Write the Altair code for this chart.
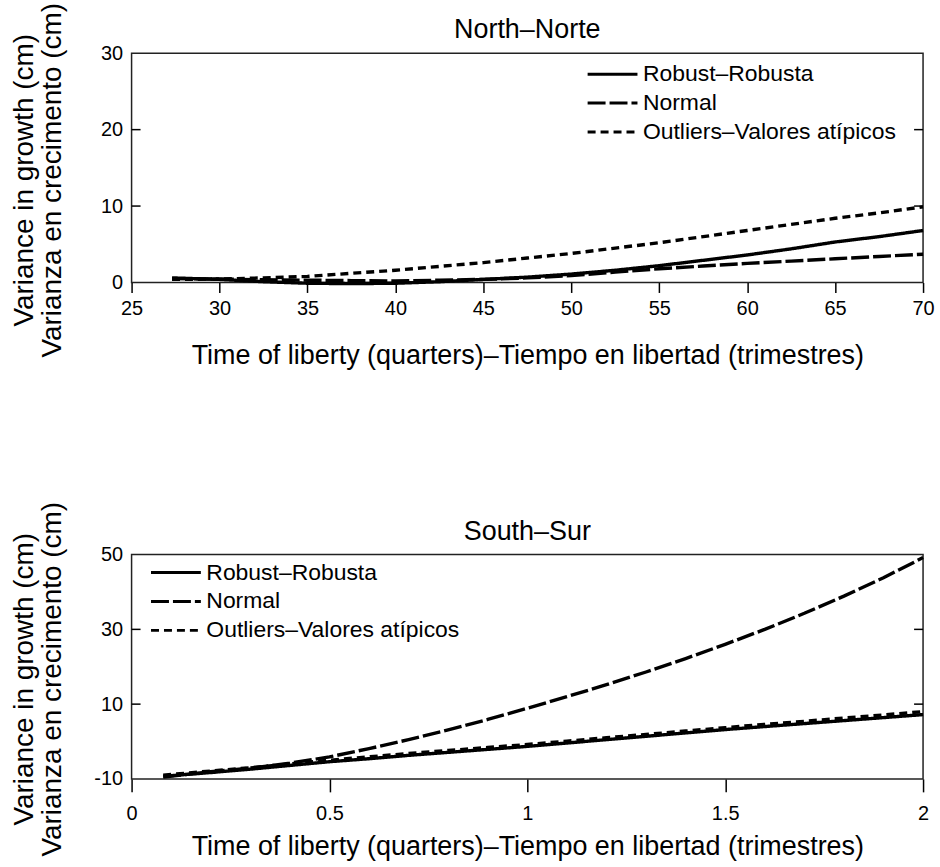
import altair as alt
import pandas as pd

series_names = ["Robust–Robusta", "Normal", "Outliers–Valores atípicos"]
dash_patterns = [[1, 0], [18, 4], [8, 5]]

# North panel
north_x = [27.3, 30, 32.5, 35, 37.5, 40, 42.5, 45, 47.5, 50, 52.5, 55, 57.5, 60, 62.5, 65, 67.5, 70]
north_robust = [0.6, 0.4, 0.1, -0.1, -0.15, -0.1, 0.1, 0.4, 0.7, 1.1, 1.6, 2.2, 2.9, 3.6, 4.4, 5.3, 6.0, 6.8]
north_normal = [0.5, 0.45, 0.35, 0.3, 0.25, 0.2, 0.3, 0.4, 0.6, 0.9, 1.35, 1.8, 2.15, 2.5, 2.8, 3.1, 3.4, 3.7]
north_outliers = [0.4, 0.45, 0.6, 0.8, 1.2, 1.6, 2.1, 2.6, 3.2, 3.8, 4.5, 5.2, 6.0, 6.8, 7.6, 8.4, 9.1, 9.9]
north_xticks = [25, 30, 35, 40, 45, 50, 55, 60, 65, 70]
north_yticks = [0, 10, 20, 30]
north_inner_ticks = [10, 20]

# South panel
south_x = [0.08, 0.2, 0.3, 0.4, 0.5, 0.6, 0.7, 0.8, 0.9, 1.0, 1.1, 1.2, 1.3, 1.4, 1.5, 1.6, 1.7, 1.8, 1.9, 2.0]
south_robust = [-9.3, -8.3, -7.4, -6.4, -5.4, -4.6, -3.7, -2.9, -2.1, -1.3, -0.4, 0.5, 1.4, 2.3, 3.2, 4.0, 4.8, 5.6, 6.4, 7.2]
south_normal = [-9.5, -8.1, -7.1, -5.8, -4.1, -1.9, 0.5, 3.1, 5.9, 8.9, 12.0, 15.2, 18.6, 22.2, 26.0, 30.0, 34.3, 38.9, 43.8, 49.2]
south_outliers = [-9.0, -7.9, -7.0, -6.0, -5.0, -4.1, -3.2, -2.4, -1.6, -0.8, 0.1, 1.0, 1.9, 2.8, 3.7, 4.6, 5.4, 6.3, 7.1, 8.0]
south_xticks = [0, 0.5, 1, 1.5, 2]
south_yticks = [-10, 10, 30, 50]
south_inner_ticks = [10, 30]

X_TITLE = "Time of liberty (quarters)–Tiempo en libertad (trimestres)"
Y_TITLE = ["Variance in growth (cm)", "Varianza en crecimento (cm)"]
FONT = "Liberation Sans"
W = 794


def make_df(xs, ys_list):
    rows = []
    for name, ys in zip(series_names, ys_list):
        for x, y in zip(xs, ys):
            rows.append({"x": x, "y": y, "series": name})
    return pd.DataFrame(rows)


def panel(df, title, H, xdom, xticks, xfmt, ydom, yticks, inner, lx, ly,
          title_dy, x_ts, x_lp, x_tp):
    yscale = alt.Scale(domain=ydom, nice=False, zero=False)
    yaxis = alt.Axis(values=yticks, title=Y_TITLE, titleY=H / 2 + 12,
                     labelExpr="datum.value < 0 ? '-' + abs(datum.value) : datum.label")
    lines = alt.Chart(df).mark_line(strokeWidth=3.4, color="black").encode(
        x=alt.X("x:Q", scale=alt.Scale(domain=xdom, nice=False, zero=False),
                axis=alt.Axis(values=xticks, format=xfmt, title=X_TITLE,
                              tickSize=x_ts, labelPadding=x_lp, titlePadding=x_tp)),
        y=alt.Y("y:Q", scale=yscale, axis=yaxis),
        strokeDash=alt.StrokeDash(
            "series:N",
            scale=alt.Scale(domain=series_names, range=dash_patterns),
            legend=alt.Legend(title=None, orient="none", legendX=lx, legendY=ly),
        ),
    )
    tdf = pd.DataFrame({"y": inner})
    lt = alt.Chart(tdf).mark_rule(color="black", strokeWidth=1.5).encode(
        y=alt.Y("y:Q", scale=yscale, axis=yaxis), x=alt.value(0), x2=alt.value(9))
    rt = alt.Chart(tdf).mark_rule(color="black", strokeWidth=1.5).encode(
        y=alt.Y("y:Q", scale=yscale, axis=yaxis), x=alt.value(W - 9), x2=alt.value(W))
    return alt.layer(lines, lt, rt).properties(
        width=W, height=H,
        title=alt.TitleParams(title, fontSize=27, font=FONT, fontWeight="normal",
                              anchor="middle", offset=9, dy=title_dy, color="black",
                              frame="group"),
    )


north = panel(make_df(north_x, [north_robust, north_normal, north_outliers]),
              "North–Norte", 230, [25, 70], north_xticks, "d", [0, 30], north_yticks,
              north_inner_ticks, 456, 7, 51, 10, 6, 24)
south = panel(make_df(south_x, [south_robust, south_normal, south_outliers]),
              "South–Sur", 225, [0, 2], south_xticks, "~g", [-10, 50], south_yticks,
              south_inner_ticks, 18, 4, 54, 13, 12, 10)

chart = alt.vconcat(north, south, spacing=273, bounds="flush").resolve_scale(
    strokeDash="independent").resolve_legend(strokeDash="independent").properties(
    padding={"left": 10, "top": 0, "right": 5, "bottom": 5}
).configure(font=FONT, background="white").configure_view(
    stroke="#222", strokeWidth=1.5
).configure_axis(
    domain=False, grid=False, labelFont=FONT, labelFontSize=20, labelColor="black",
    titleFont=FONT, titleFontSize=27, titleFontWeight="normal", titleColor="black",
    tickColor="black", tickWidth=1.5, labelFlush=False,
).configure_axisY(
    ticks=False, tickSize=0, labelPadding=9, minExtent=40, maxExtent=40,
    titlePadding=25, titleLineHeight=28, titleFontSize=28,
).configure_legend(
    symbolType="M-1,0H3", symbolSize=625, symbolStrokeWidth=3,
    symbolStrokeColor="black", labelFont=FONT, labelFontSize=23,
    labelColor="black", labelOffset=29, rowPadding=3, padding=0, labelLimit=0,
)

chart.save("out.html", embed_options={"renderer": "svg", "actions": False})
